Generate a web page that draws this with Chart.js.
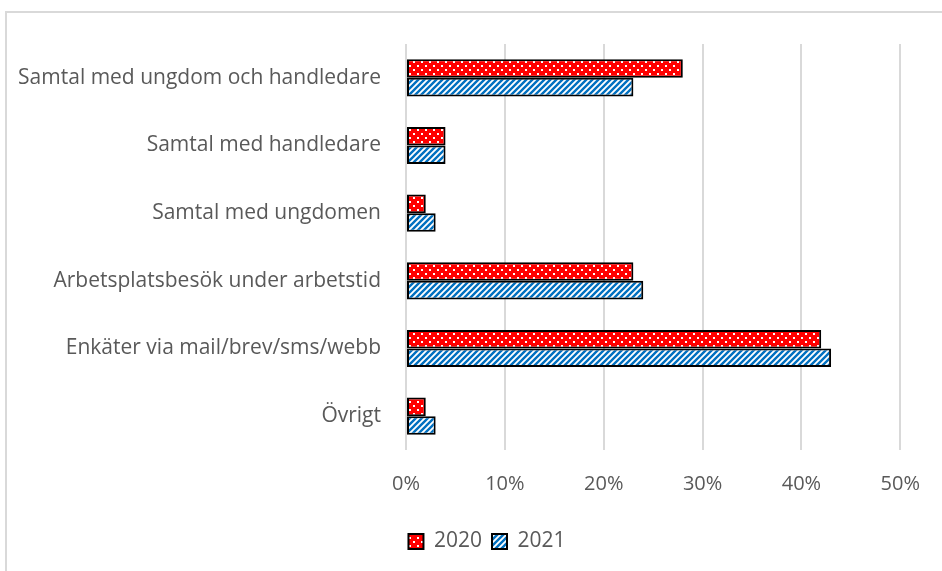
<!DOCTYPE html>
<html>
<head>
<meta charset="utf-8">
<script src="https://cdn.jsdelivr.net/npm/chart.js@4"></script>
<style>
  body { margin: 0; background: #fff; }
  #wrap { position: relative; width: 942px; height: 571px; }
  #frame { position: absolute; left: 5px; top: 11px; right: -5px; bottom: -5px; border-left: 2px solid #d9d9d9; border-top: 2px solid #d9d9d9; }
  canvas { position: absolute; left: 0; top: 0; }
</style>
</head>
<body>
<div id="wrap">
  <div id="frame"></div>
  <canvas id="chart" width="942" height="571"></canvas>
</div>
<script>
// Data
const categories = [
  "Samtal med ungdom och handledare",
  "Samtal med handledare",
  "Samtal med ungdomen",
  "Arbetsplatsbesök under arbetstid",
  "Enkäter via mail/brev/sms/webb",
  "Övrigt"
];
const values2020 = [28, 4, 2, 23, 42, 2];
const values2021 = [23, 4, 3, 24, 43, 3];
const xTicks = [0, 10, 20, 30, 40, 50];

// Dotted red fill
function redDots() {
  const c = document.createElement("canvas");
  c.width = 8; c.height = 8;
  const g = c.getContext("2d");
  g.fillStyle = "#ff0000";
  g.fillRect(0, 0, 8, 8);
  g.fillStyle = "#ffffff";
  g.fillRect(1, 1, 2, 2);
  g.fillRect(5, 5, 2, 2);
  return g.createPattern(c, "repeat");
}

// Blue diagonal stripes
function blueStripes() {
  const c = document.createElement("canvas");
  c.width = 6; c.height = 6;
  const g = c.getContext("2d");
  g.fillStyle = "#ffffff";
  g.fillRect(0, 0, 6, 6);
  g.strokeStyle = "#0070c0";
  g.lineWidth = 2.4;
  g.beginPath();
  g.moveTo(-1, 7); g.lineTo(7, -1);
  g.moveTo(-4, 4); g.lineTo(4, -4);
  g.moveTo(2, 10); g.lineTo(10, 2);
  g.stroke();
  return g.createPattern(c, "repeat");
}

// Legend in the original sits a little right of the canvas centre
const legendShift = {
  id: "legendShift",
  afterLayout(chart) {
    const l = chart.legend;
    l.left += 36; l.right += 36;
    l.top += 3; l.bottom += 3;
  }
};

const font = "'Open Sans', 'Liberation Sans', sans-serif";

new Chart(document.getElementById("chart").getContext("2d"), {
  type: "bar",
  data: {
    labels: categories,
    datasets: [
      { label: "2020", data: values2020, backgroundColor: redDots(), borderColor: "#000", borderWidth: 2, borderSkipped: false },
      { label: "2021", data: values2021, backgroundColor: blueStripes(), borderColor: "#000", borderWidth: 2, borderSkipped: false }
    ]
  },
  options: {
    indexAxis: "y",
    responsive: false,
    animation: false,
    layout: { padding: { top: 44, right: 40, left: 0, bottom: 12 } },
    datasets: { bar: { barPercentage: 1, categoryPercentage: 0.55 } },
    scales: {
      x: {
        min: 0, max: 50,
        afterBuildTicks: (s) => { s.ticks = xTicks.map((v) => ({ value: v })); },
        grid: { color: "#d9d9d9", lineWidth: 2, drawTicks: false },
        border: { display: false },
        ticks: { color: "#595959", font: { family: font, size: 20 }, padding: 22, callback: (v) => v + "%" },
        afterFit: (s) => { s.height = 68; }
      },
      y: {
        grid: { display: false },
        border: { display: false },
        ticks: { color: "#595959", font: { family: font, size: 21 }, padding: 17 },
        afterFit: (s) => { s.width = 406; }
      }
    },
    plugins: {
      legend: {
        position: "bottom",
        labels: { color: "#595959", font: { family: font, size: 21 }, boxWidth: 15, boxHeight: 15, padding: 10 }
      },
      tooltip: { enabled: false }
    }
  },
  plugins: [legendShift]
});
</script>
</body>
</html>
